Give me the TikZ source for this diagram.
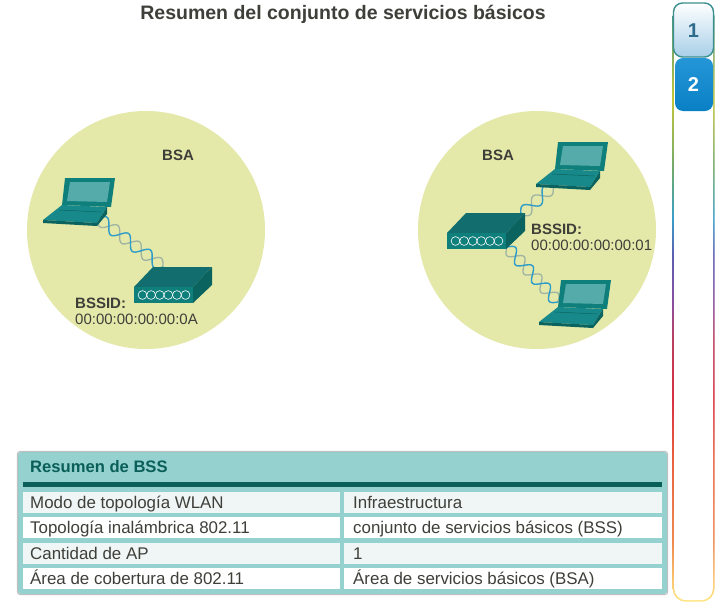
\documentclass[tikz,border=0pt]{standalone}
\usepackage{fontspec}
\setmainfont{Liberation Sans}
\usetikzlibrary{calc}
\pgfdeclarelayer{arealayer}
\pgfdeclarelayer{wirelayer}
\pgfsetlayers{arealayer,wirelayer,main}
\definecolor{areaC}{HTML}{E4E8A8}
\definecolor{tealA}{HTML}{0F7F7C}
\definecolor{tealB}{HTML}{0B6360}
\definecolor{tealC}{HTML}{17898A}
\definecolor{screenC}{HTML}{55ABAA}
\definecolor{panelC}{HTML}{94D1CF}
\definecolor{rowA}{HTML}{EFF6F5}
\definecolor{barC}{HTML}{0B5F59}
\definecolor{txtC}{HTML}{3F3F3A}
\definecolor{wireA}{HTML}{2E9CC8}
\definecolor{wireB}{HTML}{9DB3A4}
\definecolor{tabedge}{HTML}{3A8F8F}
\definecolor{tabnum}{HTML}{2E6A8C}
\definecolor{tabblue}{HTML}{2496D8}
\definecolor{tabdeep}{HTML}{0A80C4}
\definecolor{tablight}{HTML}{A8CFE8}
\definecolor{railA}{HTML}{FFE680}
\definecolor{railB}{HTML}{EE8A50}
\definecolor{railC}{HTML}{E86040}
\definecolor{railD}{HTML}{D83040}
\definecolor{railE}{HTML}{B84060}
\definecolor{railF}{HTML}{8A4FA0}
\definecolor{railG}{HTML}{5A5FB0}
\definecolor{railH}{HTML}{3A9FC8}
\definecolor{railI}{HTML}{6EA86E}
\definecolor{railJ}{HTML}{C4C63A}
\pgfdeclareverticalshading{railshade}{100bp}{
  color(0bp)=(railA);
  color(25bp)=(railA);
  color(30bp)=(railB);
  color(37bp)=(railC);
  color(42bp)=(railD);
  color(47bp)=(railE);
  color(50bp)=(railF);
  color(54bp)=(railG);
  color(57bp)=(railH);
  color(61bp)=(railI);
  color(67bp)=(railJ);
  color(75bp)=(tabedge);
  color(100bp)=(tabedge)}
\newcommand\helixwire[3]{%
  \path let \p1=(#1),\p2=(#2) in \pgfextra{%
    \pgfmathsetmacro\hlenraw{veclen(\x2-\x1,\y2-\y1)}%
    \pgfmathsetmacro\hangraw{atan2(\y2-\y1,\x2-\x1)}%
    \xdef\hlen{\hlenraw}\xdef\hang{\hangraw}};
  \begin{scope}[shift={(#1)},rotate=\hang]
    \draw[waveb] plot[domain=0:1,samples=90,variable=\t] ({\t*\hlen pt},{-6pt*sin(360*#3*\t)});
    \draw[wavea] plot[domain=0:1,samples=90,variable=\t] ({\t*\hlen pt},{6pt*sin(360*#3*\t)});
  \end{scope}}
\tikzset{
  x=1pt,y=-1pt,
  area/.style={fill=areaC,draw=none},
  wavea/.style={draw=wireA,line width=1.4pt},
  waveb/.style={draw=wireB,line width=1.3pt},
  lab/.style={font=\fontsize{15}{17}\selectfont,text=txtC,inner sep=0pt,anchor=west},
  blab/.style={lab,font=\fontsize{15}{17}\selectfont\bfseries},
  cell/.style={font=\fontsize{16.9}{19}\selectfont,text=txtC,inner sep=0pt,anchor=base west},
  laptop/.pic={
    \fill[tealA] (0,0) -- (50,0) -- (46,29) -- (-3,27) -- cycle;
    \fill[screenC] (5,4) -- (45,4) -- (42,24) -- (2,23) -- cycle;
    \fill[tealC] (-3,27) -- (42,29) -- (32,45) -- (-22,42) -- cycle;
    \fill[tealB] (42,29) -- (42,36) -- (32,48) -- (32,45) -- cycle;
    \fill[tealB] (-22,42) -- (32,45) -- (32,48) -- (-22,45) -- cycle;
    \draw[tealB,line width=.5pt] (-6,32) -- (36,34);
    \coordinate (-base) at (33,40);
    \coordinate (-side) at (-5,44);
    \coordinate (-screen) at (-3,22);
  },
  accesspoint/.pic={
    \fill[tealC!80!black] (0,0) -- (19,-20) -- (78,-20) -- (59,0) -- cycle;
    \fill[tealB] (59,0) -- (78,-20) -- (78,-2) -- (59,16) -- cycle;
    \fill[tealA] (0,0) rectangle (59,16);
    \foreach \i in {0,...,5} \draw[white,line width=.6pt] (8.5+\i*8.6,8) circle (4.4);
    \coordinate (-back) at (29,-20);
    \coordinate (-corner) at (74,-18);
    \coordinate (-low) at (60,14);
  }
}
\begin{document}
\begin{tikzpicture}
\useasboundingbox (0,0) rectangle (720,605);

\node[inner sep=0pt,font=\fontsize{19.5}{23}\selectfont\bfseries,text=txtC] (title) at (343,14) {Resumen del conjunto de servicios básicos};

% tab rail
\shade[rounded corners=13pt,shading=railshade] (672.7,3) rectangle (714.5,601.7);
\fill[white,rounded corners=12pt] (674.2,4.5) rectangle (713,600.2);

% tabs
\path[draw=tabedge,line width=1.4pt,rounded corners=9pt,top color=white,bottom color=tablight] (673.5,3) rectangle (713.5,57);
\node[font=\fontsize{20}{22}\selectfont\bfseries,text=tabnum,inner sep=0pt] (tab1) at (693.5,31) {1};
\path[rounded corners=8pt,top color=tabblue,bottom color=tabdeep] (675,58) rectangle (713,111);
\node[font=\fontsize{20}{22}\selectfont\bfseries,text=white,inner sep=0pt] (tab2) at (693.5,85) {2};

% areas
\begin{pgfonlayer}{arealayer}
\fill[white] (0,0) rectangle (720,605);
\node[area,circle,minimum size=238pt,inner sep=0pt] (left) at (146,230) {};
\node[area,circle,minimum size=238pt,inner sep=0pt] (right) at (537,230) {};
\end{pgfonlayer}

\pic (lap1) at (65,178) {laptop};
\pic (lap2) at (558,142) {laptop};
\pic (lap3) at (561,280) {laptop};
\pic (ap1) at (134,287) {accesspoint};
\pic (ap2) at (447,233) {accesspoint};

\begin{pgfonlayer}{wirelayer}
\helixwire{lap1-base}{ap1-back}{3}
\helixwire{ap2-corner}{lap2-side}{1.5}
\helixwire{ap2-low}{lap3-screen}{3}
\end{pgfonlayer}

\node[blab] (bsa1) at (162,155) {BSA};
\node[blab] (bsa2) at (482,155) {BSA};
\node[blab] (b1) at (75,303) {BSSID:};
\node[lab] (m1) at (75,319) {00:00:00:00:00:0A};
\node[blab] (b2) at (531,229) {BSSID:};
\node[lab] (m2) at (531,245) {00:00:00:00:00:01};

% table
\fill[panelC,rounded corners=3pt] (18,452) rectangle (667,594);
\draw[black!40,line width=1.2pt,opacity=.6,rounded corners=3pt] (17.4,451.4) rectangle (667.6,594.6);
\fill[barC] (23,482) rectangle (662,487);
\node[cell,anchor=west,font=\fontsize{16.6}{19}\selectfont\bfseries,text=barC] (head) at (30,467) {Resumen de BSS};
\fill[rowA] (23,492) rectangle (340,513);
\fill[rowA] (344,492) rectangle (662,513);
\fill[white] (23,517) rectangle (340,538);
\fill[white] (344,517) rectangle (662,538);
\fill[rowA] (23,543) rectangle (340,564);
\fill[rowA] (344,543) rectangle (662,564);
\fill[white] (23,568) rectangle (340,589);
\fill[white] (344,568) rectangle (662,589);
\node[cell] (a1) at (30,508) {Modo de topología WLAN};
\node[cell] (a2) at (30,533) {Topología inalámbrica 802.11};
\node[cell] (a3) at (30,559) {Cantidad de AP};
\node[cell] (a4) at (30,584) {Área de cobertura de 802.11};
\node[cell] (c1) at (353,508) {Infraestructura};
\node[cell] (c2) at (353,533) {conjunto de servicios básicos (BSS)};
\node[cell] (c3) at (353,559) {1};
\node[cell] (c4) at (353,584) {Área de servicios básicos (BSA)};
\end{tikzpicture}
\end{document}
